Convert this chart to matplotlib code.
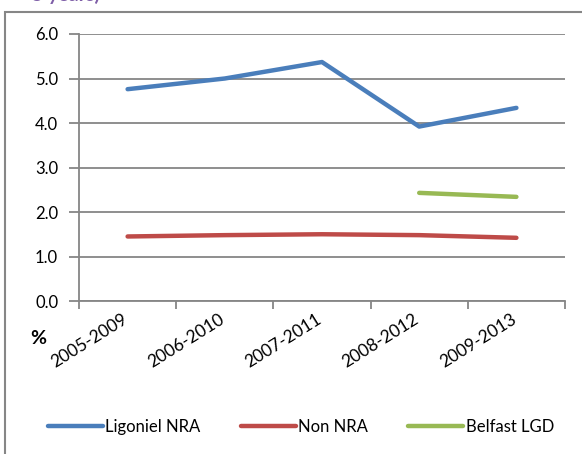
import numpy as np
import matplotlib
matplotlib.use("Agg")
import matplotlib.pyplot as plt
import matplotlib.transforms as mtransforms
from matplotlib.patches import Rectangle

plt.rcParams['font.family'] = ['Lato', 'DejaVu Sans']

# data
periods = ["2005-2009", "2006-2010", "2007-2011", "2008-2012", "2009-2013"]
ligoniel = [4.76, 5.00, 5.37, 3.92, 4.34]
non_nra = [1.45, 1.48, 1.50, 1.48, 1.42]
belfast = [np.nan, np.nan, np.nan, 2.43, 2.34]
yticks = [0.0, 1.0, 2.0, 3.0, 4.0, 5.0, 6.0]

grey = "#868686"

fig = plt.figure(figsize=(5.82, 4.54), dpi=100)
ax = fig.add_axes([79/582, 1 - 301/454, (565 - 79)/582, (301 - 34)/454])

x = np.arange(len(periods))
ax.plot(x, ligoniel, color="#4A7EBB", lw=3.2, solid_capstyle="round", label="Ligoniel NRA", zorder=3)
ax.plot(x, non_nra, color="#BE4B48", lw=3.2, solid_capstyle="round", label="Non NRA", zorder=3)
ax.plot(x, belfast, color="#98B954", lw=3.2, solid_capstyle="round", label="Belfast LGD", zorder=3)

ax.set_xlim(-0.5, len(periods) - 0.5)
ax.set_ylim(0, 6)
ax.set_yticks(yticks)
ax.set_yticklabels(["%.1f" % v for v in yticks], fontsize=12)
ax.yaxis.grid(True, color=grey, lw=1.3)
ax.set_axisbelow(True)

# category boundaries carry the ticks, labels sit in the middle
ax.set_xticks(np.arange(-0.5, len(periods)), minor=False)
ax.set_xticklabels([])
ax.set_xticks(x, minor=True)
ax.set_xticklabels(periods, minor=True, rotation=32, ha="right",
                   rotation_mode="anchor", fontsize=12.5)
ax.tick_params(axis="x", which="minor", length=0, pad=7)
ax.tick_params(axis="x", which="major", length=6, color=grey, width=1.3)
ax.tick_params(axis="y", length=7, color=grey, width=1.3, pad=8)

# nudge the slanted labels a little to the left
shift = mtransforms.ScaledTranslation(-6/100, 0, fig.dpi_scale_trans)
for lbl in ax.get_xticklabels(minor=True):
    lbl.set_transform(lbl.get_transform() + shift)

for side in ["top", "right"]:
    ax.spines[side].set_visible(False)
ax.spines["left"].set_color(grey)
ax.spines["bottom"].set_color(grey)
ax.spines["left"].set_linewidth(1.3)
ax.spines["bottom"].set_linewidth(1.3)

fig.text(38/582, 1 - 339/454, "%", fontsize=14, fontweight="bold", ha="center", va="center")

fig.legend(loc="center", bbox_to_anchor=(0.517, 1 - 427/454), ncol=3, frameon=False,
           fontsize=12, handlelength=3.3, handletextpad=0.15, columnspacing=2.4)

# outer chart frame
fig.patches.append(Rectangle((5/582, -0.2), 1.2, 1.2 - 12/454,
                             transform=fig.transFigure, fill=False,
                             edgecolor=grey, lw=1.5, clip_on=False))

# cut-off heading above the frame
fig.text(100/582, 1 + 5/454, "5 years)", color="#7F5FA8", fontsize=14,
         ha="right", va="center", fontweight="bold")

fig.savefig("out.png", dpi=100)
